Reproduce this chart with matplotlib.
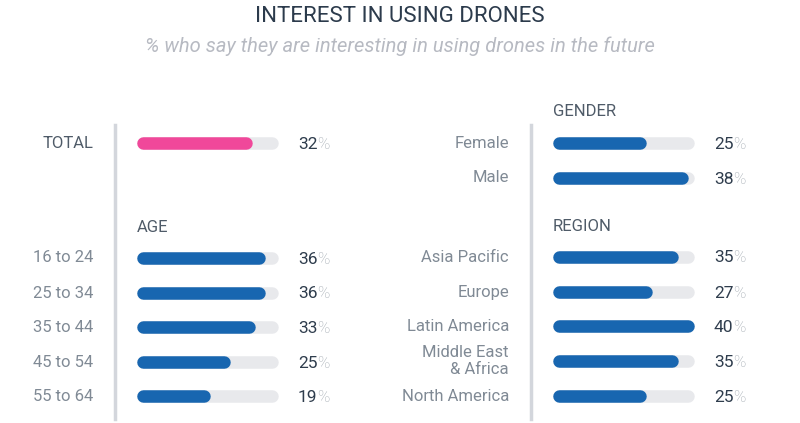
"""Interest in using drones: rounded progress bars by segment."""
import matplotlib.pyplot as plt

# data
total_label = ['TOTAL']
total_values = [32]
age_labels = ['16 to 24', '25 to 34', '35 to 44', '45 to 54', '55 to 64']
age_values = [36, 36, 33, 25, 19]
gender_labels = ['Female', 'Male']
gender_values = [25, 38]
region_labels = ['Asia Pacific', 'Europe', 'Latin America', 'Middle East\n& Africa', 'North America']
region_values = [35, 27, 40, 35, 25]
scale_max = 40

W, H = 800, 423
BLUE = '#1866b0'
PINK = '#f0489a'
TRACK = '#e8e9ec'
LABEL = '#808a95'
HEAD = '#4f5b68'
NUM = '#2f3d4d'
PCT = '#a3aab2'
FONT = 'Roboto'


def fx(x):
    return x / W


def fy(y):
    return 1 - y / H


def make_axes(fig, x0, x1):
    # bar axes: x in percent, y in pixel rows
    ax = fig.add_axes([fx(x0), 0, fx(x1 - x0), 1])
    ax.set_xlim(0, scale_max)
    ax.set_ylim(H, 0)
    ax.axis('off')
    return ax


def draw_rows(fig, ax, labels, values, ys, color, label_x, value_x, label_color=LABEL):
    for lab, v, y in zip(labels, values, ys):
        ax.plot([0, scale_max], [y, y], color=TRACK, lw=9, solid_capstyle='round', clip_on=False)
        ax.plot([0, v], [y, y], color=color, lw=9, solid_capstyle='round', clip_on=False)
        fig.text(fx(label_x), fy(y), lab, ha='right', va='center', fontsize=12,
                 color=label_color, family=FONT, linespacing=1.1)
        t = fig.text(fx(value_x), fy(y + 1), str(v), ha='left', va='center',
                     fontsize=12.5, color=NUM, family=FONT)
        ax.annotate('%', xy=(1.0, 0.0), xycoords=t, ha='left', va='bottom',
                    fontsize=12, color=PCT, family=FONT, fontweight='light')


def main():
    fig = plt.figure(figsize=(8, 4.23), dpi=100)
    fig.patch.set_facecolor('white')

    fig.text(0.5, fy(16), 'INTEREST IN USING DRONES', ha='center', va='center',
             fontsize=16, color='#2c3b4c', family=FONT)
    fig.text(0.5, fy(46), '% who say they are interesting in using drones in the future',
             ha='center', va='center', fontsize=14.5, color='#b7bac2',
             family=FONT, style='italic')

    # separators
    sep = fig.add_axes([0, 0, 1, 1])
    sep.set_xlim(0, W)
    sep.set_ylim(H, 0)
    sep.axis('off')
    sep.plot([115, 115], [125, 419], color='#d3d6dc', lw=2.5)
    sep.plot([531, 531], [125, 419], color='#d3d6dc', lw=2.5)

    left = make_axes(fig, 143, 272)
    right = make_axes(fig, 559, 688)

    draw_rows(fig, left, total_label, total_values, [143], PINK, 93, 298, label_color=HEAD)
    fig.text(fx(137), fy(227), 'AGE', ha='left', va='center', fontsize=12, color=HEAD, family=FONT)
    draw_rows(fig, left, age_labels, age_values, [258, 293, 327, 362, 396], BLUE, 93, 298)

    fig.text(fx(553), fy(112), 'GENDER', ha='left', va='center', fontsize=12, color=HEAD, family=FONT)
    draw_rows(fig, right, gender_labels, gender_values, [143, 178], BLUE, 509, 714)
    fig.text(fx(553), fy(226), 'REGION', ha='left', va='center', fontsize=12, color=HEAD, family=FONT)
    draw_rows(fig, right, region_labels, region_values, [257, 292, 326, 361, 396], BLUE, 509, 714)

    fig.savefig('out.png', dpi=100, facecolor='white')


if __name__ == '__main__':
    main()
